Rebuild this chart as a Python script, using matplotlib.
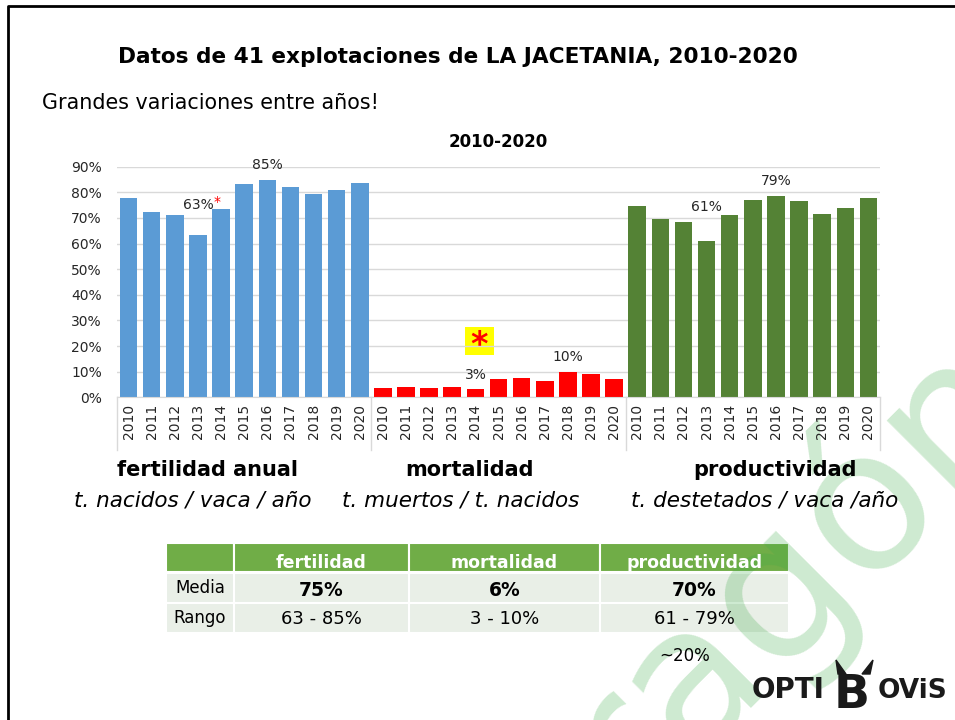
import matplotlib
matplotlib.use("Agg")
import matplotlib.pyplot as plt
import matplotlib.ticker as mticker
from matplotlib.patches import Rectangle, Polygon

W, H = 955, 720

# ── Data ──────────────────────────────────────────────────────────────────────
years = [str(y) for y in range(2010, 2021)]
fertilidad = [77.7, 72.2, 71.2, 63.4, 73.4, 83.3, 85.0, 82.1, 79.3, 80.9, 83.6]
mortalidad = [3.6, 4.0, 3.6, 4.0, 3.2, 7.1, 7.5, 6.4, 9.9, 9.1, 7.3]
productividad = [74.7, 69.7, 68.5, 61.1, 71.2, 77.1, 78.6, 76.7, 71.6, 74.0, 77.6]

group_names = ["fertilidad anual", "mortalidad", "productividad"]
group_units = ["t. nacidos / vaca / año", "t. muertos / t. nacidos",
               "t. destetados / vaca /año"]
group_colors = ["#5B9BD5", "#FF0000", "#548235"]

# (group, year index, label, lift in points)
bar_labels = [(0, 3, "63%", 21.5), (0, 6, "85%", 10.5), (1, 4, "3%", 10.5),
              (1, 8, "10%", 10.5), (2, 3, "61%", 24.0), (2, 6, "79%", 10.5)]

table_cols = ["fertilidad", "mortalidad", "productividad"]
table_rows = ["Media", "Rango"]
table_media = ["75%", "6%", "70%"]
table_rango = ["63 - 85%", "3 - 10%", "61 - 79%"]

fig = plt.figure(figsize=(W / 100, H / 100), dpi=100)
fig.patch.set_facecolor("white")

# ── Slide overlay (pixel coordinates) ─────────────────────────────────────────
bg = fig.add_axes([0, 0, 1, 1], zorder=0)
bg.set_xlim(0, W)
bg.set_ylim(H, 0)
bg.axis("off")

bg.plot([7.5, 7.5, W], [H, 5.5, 5.5], color="black", lw=2, solid_capstyle="butt")

bg.text(458, 57, "Datos de 41 explotaciones de LA JACETANIA, 2010-2020",
        ha="center", va="center", fontsize=15.6, fontweight="bold")
bg.text(42, 103, "Grandes variaciones entre años!", ha="left", va="center",
        fontsize=14.9)

# watermark
wm = bg.text(748, 628, "Aragón", ha="center", va="center", rotation=45,
             rotation_mode="anchor", fontsize=142, color="#3caa46", alpha=0.25,
             zorder=3)
wm.set_clip_on(True)

# ── Chart ─────────────────────────────────────────────────────────────────────
ax = fig.add_axes([117 / W, 1 - 397.3 / H, (880 - 117) / W, (397.3 - 166.7) / H],
                  zorder=2)
ax.patch.set_alpha(0)

series = [fertilidad, mortalidad, productividad]
n = len(years)
for g, (vals, color) in enumerate(zip(series, group_colors)):
    xs = [g * n + i for i in range(n)]
    ax.bar(xs, vals, width=0.76, color=color, zorder=2)

for g, i, txt, lift in bar_labels:
    ax.annotate(txt, (g * n + i, series[g][i]), xytext=(0, lift),
                textcoords="offset points", ha="center", va="center",
                fontsize=10, color="#262626")

ax.set_xlim(-0.5, 3 * n - 0.5)
ax.set_ylim(0, 90)
ax.yaxis.set_major_locator(mticker.MultipleLocator(10))
ax.yaxis.set_major_formatter(mticker.FuncFormatter(lambda v, _: f"{v:.0f}%"))
ax.set_xticks(range(3 * n))
ax.set_xticklabels(years * 3, rotation=90)
ax.tick_params(axis="x", length=0, pad=5, labelsize=10, labelcolor="#262626")
ax.tick_params(axis="y", length=0, pad=11, labelsize=10, labelcolor="#262626")
ax.yaxis.grid(True, color="#d9d9d9", lw=1, zorder=0)
ax.set_axisbelow(True)
for s in ["top", "left", "right"]:
    ax.spines[s].set_visible(False)
ax.spines["bottom"].set_color("#d9d9d9")
for k in range(4):
    ax.plot([k * n - 0.5] * 2, [0, -0.229], transform=ax.get_xaxis_transform(),
            color="#d9d9d9", lw=1, clip_on=False)
ax.set_title("2010-2020", fontsize=12, fontweight="bold", pad=14)

# small red asterisk next to 63% and the yellow call-out
bg.text(217, 202, "*", color="red", fontsize=10, ha="center", va="center")
bg.add_patch(Rectangle((465, 327), 29, 28, facecolor="#FFFF00", edgecolor="none"))
bg.text(479.5, 345, "*", color="red", fontsize=24, fontweight="bold",
        ha="center", va="center")

# group captions
for name, unit, cx, cu in zip(group_names, group_units, [207, 469, 775],
                              [193, 461, 765]):
    bg.text(cx, 470, name, ha="center", va="center", fontsize=15,
            fontweight="bold")
    bg.text(cu, 500, unit, ha="center", va="center", fontsize=15.5,
            style="italic")

# ── Summary table ─────────────────────────────────────────────────────────────
col_edges = [166, 234, 409, 600, 789]
row_edges = [(543, 572), (573, 603), (603, 633)]
for r, (y0, y1) in enumerate(row_edges):
    face = "#70AD47" if r == 0 else "#E9EFE7"
    for c in range(4):
        x0, x1 = col_edges[c], col_edges[c + 1]
        bg.add_patch(Rectangle((x0, y0), x1 - x0, y1 - y0, facecolor=face,
                               edgecolor="white", lw=1.5, zorder=2))

centers = [(col_edges[c] + col_edges[c + 1]) / 2 for c in range(4)]
for c, name in enumerate(table_cols):
    bg.text(centers[c + 1], 563, name, ha="center", va="center", color="white",
            fontsize=12.5, fontweight="bold", zorder=4)
for r, label in enumerate(table_rows):
    yc = (row_edges[r + 1][0] + row_edges[r + 1][1]) / 2
    bg.text(centers[0], yc, label, ha="center", va="center", fontsize=12,
            zorder=4)
for c, (m, rg) in enumerate(zip(table_media, table_rango)):
    bg.text(centers[c + 1], 590, m, ha="center", va="center", fontsize=13.5,
            fontweight="bold", zorder=4)
    bg.text(centers[c + 1], 619, rg, ha="center", va="center", fontsize=13,
            zorder=4)
bg.text(685, 656, "~20%", ha="center", va="center", fontsize=12, zorder=4)

# ── Logo ──────────────────────────────────────────────────────────────────────
bg.text(752, 698, "OPTI", ha="left", va="baseline", fontsize=20,
        fontweight="bold", color="#1a1a1a", zorder=4)
bg.text(834, 708, "B", ha="left", va="baseline", fontsize=34,
        fontweight="bold", color="#1a1a1a", zorder=4)
bg.text(878, 698, "OViS", ha="left", va="baseline", fontsize=19,
        fontweight="bold", color="#1a1a1a", zorder=4)
bg.add_patch(Polygon([[838, 674], [846, 674], [836, 660]], color="#1a1a1a",
                     zorder=4))
bg.add_patch(Polygon([[862, 674], [870, 674], [873, 660]], color="#1a1a1a",
                     zorder=4))

fig.savefig("out.png", dpi=100)
